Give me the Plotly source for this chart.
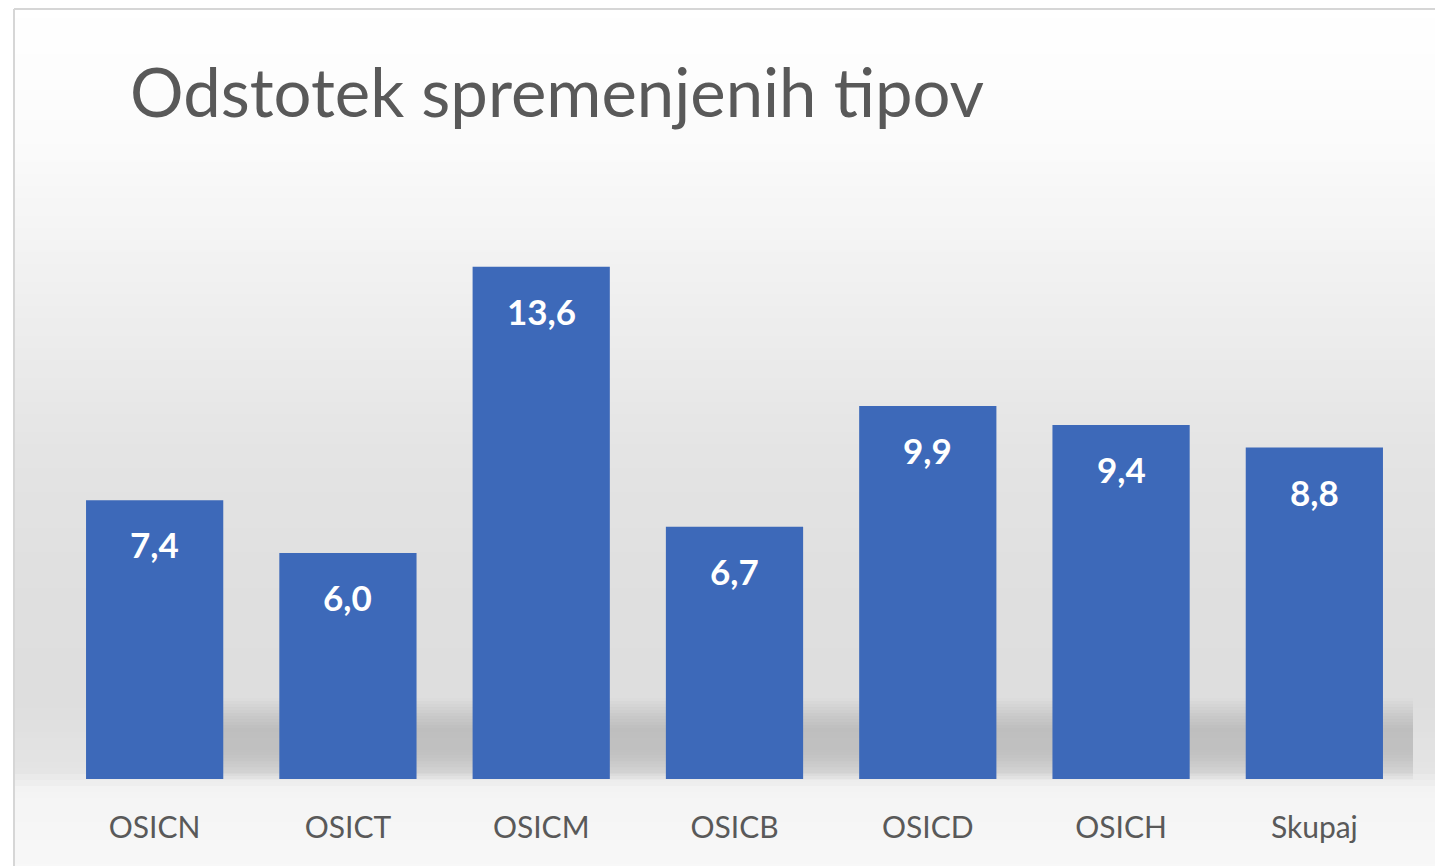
import plotly.graph_objects as go

categories = ["OSICN", "OSICT", "OSICM", "OSICB", "OSICD", "OSICH", "Skupaj"]
values = [7.4, 6.0, 13.6, 6.7, 9.9, 9.4, 8.8]
labels = [f"{v:.1f}".replace(".", ",") for v in values]
title_text = "Odstotek spremenjenih tipov"

W, H = 1443, 866
OFF = 8  # page body margin
ML, MR, MT, MB = 50, 40, 206, 95
PW = W - ML - MR
PH = H - MT - MB
FONT = "Lato, 'Open Sans', sans-serif"


def px_x(px):
    return (px - OFF - ML) / PW


def px_y(py):
    return (H - MB - (py - OFF)) / PH


def interp(stops, y):
    for (y0, c0), (y1, c1) in zip(stops, stops[1:]):
        if y0 <= y <= y1:
            t = (y - y0) / (y1 - y0) if y1 > y0 else 0
            return c0 + (c1 - c0) * t
    return stops[-1][1]


shapes = []
# background gradient (decoration)
stops = [(0, 255), (140, 251), (300, 239), (450, 228), (600, 223), (700, 222),
         (770, 228), (790, 244), (874, 248)]
step = 6
for y0 in range(0, H + OFF, step):
    g = int(round(interp(stops, y0 + step / 2)))
    shapes.append(dict(type="rect", xref="paper", yref="paper",
                       x0=px_x(14), x1=px_x(W + OFF), y0=px_y(y0), y1=px_y(y0 + step + 1),
                       fillcolor=f"rgb({g},{g},{g})", line=dict(width=0), layer="below"))
# floor shadow (decoration)
sh_stops = [(698, 0.0), (715, 0.09), (728, 0.15), (752, 0.15), (772, 0.08), (781, 0.0)]
for y0 in range(698, 781, 3):
    a = interp(sh_stops, y0 + 1.5)
    shapes.append(dict(type="rect", xref="paper", yref="paper",
                       x0=px_x(200), x1=px_x(1413), y0=px_y(y0), y1=px_y(y0 + 3),
                       fillcolor=f"rgba(0,0,0,{a:.3f})", line=dict(width=0), layer="below"))
# frame lines
shapes.append(dict(type="line", xref="paper", yref="paper", x0=px_x(14), x1=px_x(W + OFF),
                   y0=px_y(9), y1=px_y(9), line=dict(color="#d6d6d6", width=2), layer="below"))
shapes.append(dict(type="line", xref="paper", yref="paper", x0=px_x(14), x1=px_x(14),
                   y0=px_y(9), y1=px_y(H + OFF), line=dict(color="#d6d6d6", width=2), layer="below"))

fig = go.Figure(go.Bar(
    x=categories, y=values,
    marker=dict(color="#3d69b9", line=dict(width=0)),
    hoverinfo="skip",
))

annotations = [dict(x=c, y=v, xref="x", yref="y", text=f"<b>{t}</b>", showarrow=False,
                    yanchor="middle", yshift=-44,
                    font=dict(family=FONT, size=35, color="white"))
               for c, v, t in zip(categories, values, labels)]

fig.update_layout(
    width=W, height=H,
    margin=dict(l=ML, r=MR, t=MT, b=MB, pad=0),
    paper_bgcolor="white", plot_bgcolor="rgba(0,0,0,0)",
    bargap=0.29,
    showlegend=False,
    title=dict(text=title_text, xref="container", yref="container",
               x=(130 - OFF) / W, xanchor="left", y=1 - (94 - OFF) / H, yanchor="middle",
               font=dict(family=FONT, size=67, color="#595959")),
    xaxis=dict(showgrid=False, showline=False, zeroline=False, ticks="",
               tickfont=dict(family=FONT, size=30, color="#595959"),
               ticklabelstandoff=28, fixedrange=True),
    yaxis=dict(range=[0, 15], visible=False, fixedrange=True),
    shapes=shapes,
    annotations=annotations,
)

fig.write_html("out.html")
